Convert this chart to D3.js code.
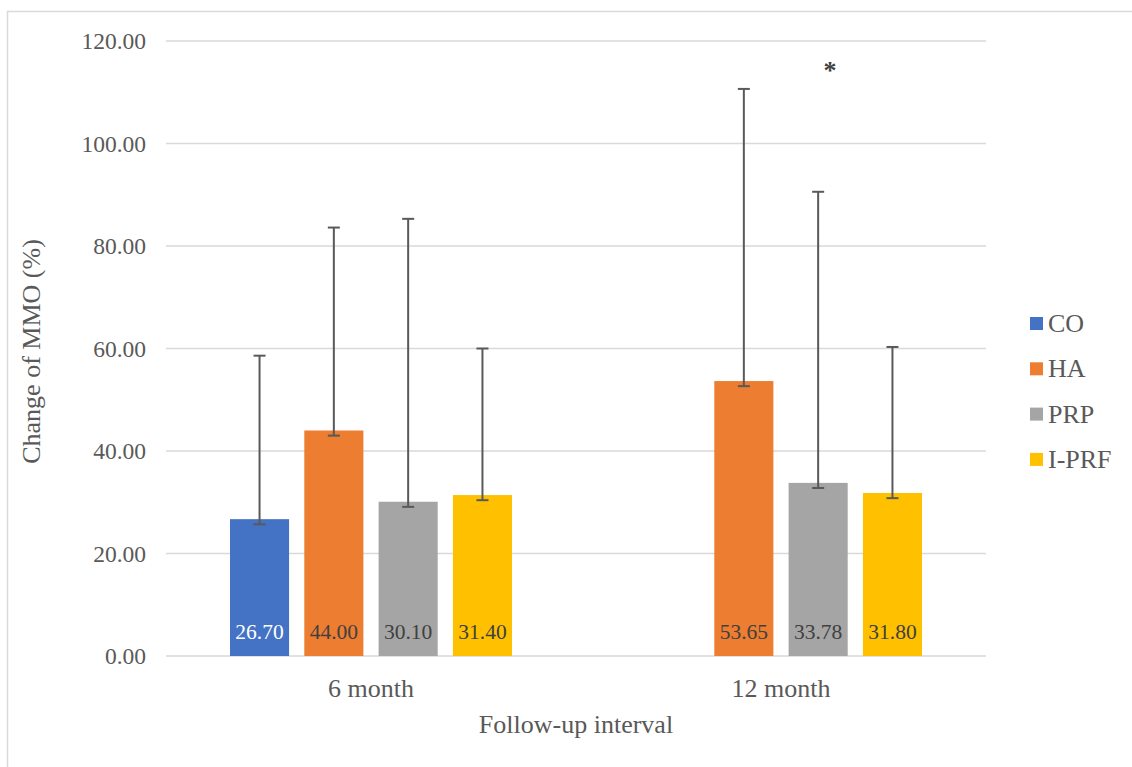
<!DOCTYPE html>
<html>
<head>
<meta charset="utf-8">
<script src="https://cdn.jsdelivr.net/npm/d3@7"></script>
<style>
  html, body { margin: 0; padding: 0; background: #fff; }
  svg { display: block; }
  svg text { font-family: "Liberation Serif", "Times New Roman", serif !important; }
</style>
</head>
<body>
<script>
const categories = ["6 month", "12 month"];
const seriesNames = ["CO", "HA", "PRP", "I-PRF"];
const seriesColors = ["#4472C4", "#ED7D31", "#A5A5A5", "#FFC000"];
// values per series, per category (null = no bar)
const valCO   = [26.70, null];
const valHA   = [44.00, 53.65];
const valPRP  = [30.10, 33.78];
const valIPRF = [31.40, 31.80];
// error bar plus / minus amounts
const errPlusCO   = [31.9, null];
const errPlusHA   = [39.6, 57.0];
const errPlusPRP  = [55.2, 56.8];
const errPlusIPRF = [28.6, 28.5];
const errMinus    = [1.0, 1.0];
const yTicks = [0, 20, 40, 60, 80, 100, 120];
const yTitle = "Change of MMO (%)";
const xTitle = "Follow-up interval";
const starNote = "*";

const W = 1132, H = 767;
const FONT = "'Liberation Serif', 'Times New Roman', serif";
const svg = d3.select("body").append("svg").attr("width", W).attr("height", H);

// outer chart border
svg.append("rect").attr("x", 7.5).attr("y", 11.5).attr("width", W + 10).attr("height", H + 10)
  .attr("fill", "none").attr("stroke", "#d9d9d9").attr("stroke-width", 1.5);

const plot = { left: 166, right: 986, top: 41, bottom: 656 };

const y = d3.scaleLinear().domain([0, 120]).range([plot.bottom, plot.top]);
const x0 = d3.scaleBand().domain(categories).range([plot.left, plot.right]).paddingInner(0).paddingOuter(0);
const x1 = d3.scaleBand().domain(seriesNames).range([64, 346]).paddingInner(0.205).paddingOuter(0);

// gridlines
svg.append("g").selectAll("line").data(yTicks).join("line")
  .attr("x1", plot.left).attr("x2", plot.right)
  .attr("y1", d => y(d)).attr("y2", d => y(d))
  .attr("stroke", "#d9d9d9").attr("stroke-width", 1.5);

// y axis labels
const yAxis = d3.axisLeft(y).tickValues(yTicks).tickFormat(d3.format(".2f")).tickSize(0).tickPadding(20);
const gy = svg.append("g").attr("transform", `translate(${plot.left},0)`).call(yAxis);
gy.attr("font-family", null).attr("font-size", null);
gy.select(".domain").remove();
gy.selectAll("text").style("font-size", "23.5px").attr("fill", "#595959").style("font-family", FONT);

// x axis labels
const xAxis = d3.axisBottom(x0).tickSize(0).tickPadding(0);
const gx = svg.append("g").attr("transform", `translate(0,${plot.bottom})`).call(xAxis);
gx.attr("font-family", null).attr("font-size", null);
gx.select(".domain").remove();
gx.selectAll("text").attr("dy", null).attr("y", 41).style("font-size", "26px").attr("fill", "#595959").style("font-family", FONT);

const seriesVals = [valCO, valHA, valPRP, valIPRF];
const seriesErr = [errPlusCO, errPlusHA, errPlusPRP, errPlusIPRF];
const data = [];
seriesNames.forEach((s, si) => {
  categories.forEach((c, ci) => {
    if (seriesVals[si][ci] != null) {
      data.push({ s, si, c, v: seriesVals[si][ci], ep: seriesErr[si][ci], em: errMinus[ci] });
    }
  });
});

const bx = d => x0(d.c) + x1(d.s);
const bw = x1.bandwidth();

svg.append("g").selectAll("rect").data(data).join("rect")
  .attr("x", bx).attr("width", bw)
  .attr("y", d => y(d.v)).attr("height", d => y(0) - y(d.v))
  .attr("fill", d => seriesColors[d.si]);

// error bars
const eb = svg.append("g").attr("stroke", "#595959").attr("stroke-width", 2);
data.forEach(d => {
  const cx = bx(d) + bw / 2;
  const top = y(d.v + d.ep), bot = y(d.v - d.em);
  eb.append("line").attr("x1", cx).attr("x2", cx).attr("y1", top).attr("y2", bot);
  eb.append("line").attr("x1", cx - 6).attr("x2", cx + 6).attr("y1", top).attr("y2", top);
  eb.append("line").attr("x1", cx - 6).attr("x2", cx + 6).attr("y1", bot).attr("y2", bot);
});

// data labels
svg.append("g").selectAll("text").data(data).join("text")
  .attr("x", d => bx(d) + bw / 2).attr("y", 639)
  .attr("text-anchor", "middle").style("font-size", "21.5px")
  .attr("fill", d => d.s === "CO" ? "#ffffff" : "#404040")
  .text(d => d.v.toFixed(2));

// asterisk
svg.append("text").attr("x", 830).attr("y", 79).attr("text-anchor", "middle")
  .style("font-size", "26px").attr("font-weight", "bold").attr("fill", "#404040").text(starNote);

// axis titles
svg.append("text").attr("transform", `translate(40,${(plot.top + plot.bottom) / 2 + 3}) rotate(-90)`)
  .attr("text-anchor", "middle").style("font-size", "26px").attr("fill", "#595959").text(yTitle);
svg.append("text").attr("x", (plot.left + plot.right) / 2).attr("y", 733)
  .attr("text-anchor", "middle").style("font-size", "26px").attr("fill", "#595959").text(xTitle);

// legend
const lg = svg.append("g");
seriesNames.forEach((s, i) => {
  const yy = 324 + i * 45.3;
  lg.append("rect").attr("x", 1030).attr("y", yy - 7).attr("width", 13).attr("height", 13).attr("fill", seriesColors[i]);
  lg.append("text").attr("x", 1048).attr("y", yy + 8).style("font-size", "26px").attr("fill", "#595959").text(s);
});
</script>
</body>
</html>
